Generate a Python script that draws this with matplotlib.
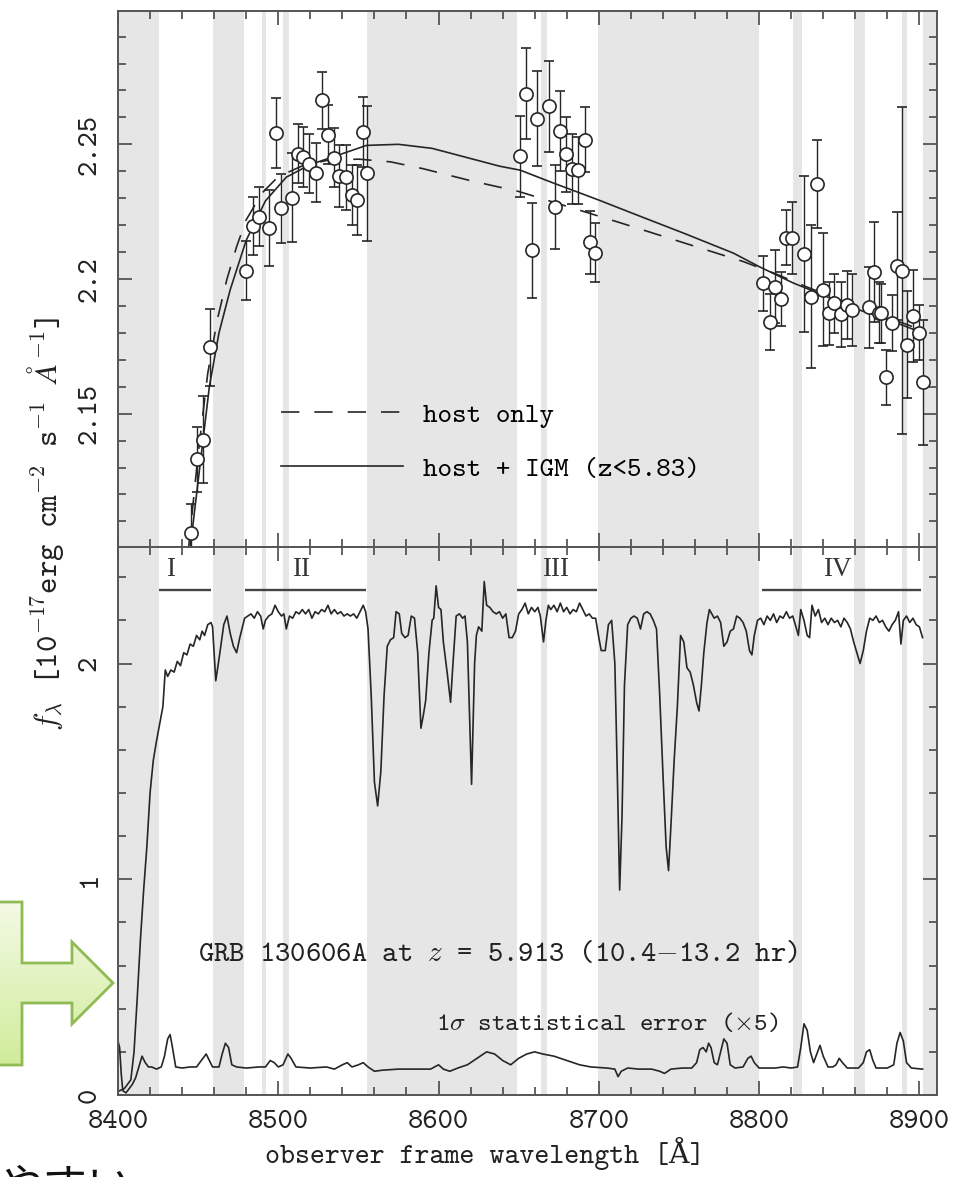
import numpy as np
import matplotlib
matplotlib.use("Agg")
import matplotlib.pyplot as plt
from matplotlib.ticker import MultipleLocator, FixedLocator, FixedFormatter
from matplotlib.patches import Polygon
from matplotlib.lines import Line2D
from matplotlib.colors import LinearSegmentedColormap

# ---------------- data ----------------
# binned flux points (upper panel)
pt_lam = [8445.8, 8449.6, 8453.3, 8457.3, 8479.8, 8484.0, 8488.0, 8494.4, 8498.5, 8501.7,
          8508.3, 8512.0, 8515.6, 8519.4, 8523.5, 8527.3, 8530.8, 8534.6, 8538.0, 8542.3,
          8545.8, 8549.2, 8553.0, 8555.4,
          8650.6, 8654.8, 8658.3, 8661.6, 8668.8, 8672.5, 8675.6, 8679.8, 8683.3, 8687.0,
          8691.3, 8694.4, 8697.9,
          8802.7, 8806.5, 8810.0, 8813.8, 8817.0, 8820.8, 8828.0, 8832.3, 8836.0, 8839.8,
          8843.4, 8847.0, 8851.0, 8854.8, 8857.9, 8868.3, 8871.5, 8874.6, 8876.3, 8879.2,
          8882.9, 8886.0, 8889.0, 8892.3, 8896.0, 8899.6, 8902.0]
pt_flux = [2.1058, 2.1330, 2.1404, 2.1746, 2.2031, 2.2196, 2.2231, 2.2190, 2.2543, 2.2262,
           2.2301, 2.2465, 2.2453, 2.2428, 2.2395, 2.2663, 2.2536, 2.2451, 2.2383, 2.2377,
           2.2311, 2.2295, 2.2546, 2.2392,
           2.2456, 2.2688, 2.2107, 2.2595, 2.2641, 2.2268, 2.2549, 2.2463, 2.2410, 2.2404,
           2.2517, 2.2136, 2.2098,
           2.1984, 2.1842, 2.1972, 2.1925, 2.2153, 2.2153, 2.2093, 2.1935, 2.2352, 2.1960,
           2.1873, 2.1910, 2.1869, 2.1904, 2.1885, 2.1895, 2.2027, 2.1875, 2.1873, 2.1635,
           2.1838, 2.2048, 2.2031, 2.1756, 2.1863, 2.1801, 2.1616]
pt_err = [0.0108, 0.0120, 0.0160, 0.0143, 0.0110, 0.0108, 0.0110, 0.0140, 0.0130, 0.0128,
          0.0165, 0.0110, 0.0110, 0.0110, 0.0110, 0.0106, 0.0110, 0.0110, 0.0115, 0.0120,
          0.0112, 0.0130, 0.0130, 0.0250,
          0.0150, 0.0170, 0.0176, 0.0176, 0.0170, 0.0157, 0.0148, 0.0140, 0.0130, 0.0125,
          0.0120, 0.0117, 0.0110,
          0.0102, 0.0104, 0.0136, 0.0100, 0.0102, 0.0134, 0.0290, 0.0265, 0.0163, 0.0210,
          0.0117, 0.0110, 0.0120, 0.0125, 0.0135, 0.0150, 0.0186, 0.0114, 0.0110, 0.0102,
          0.0104, 0.0200, 0.0607, 0.0199, 0.0170, 0.0102, 0.0233]

# model curves (upper panel)
host_lam = [8444, 8450, 8456, 8462, 8468, 8474, 8480, 8490, 8500, 8515, 8530, 8550, 8570,
            8590, 8620, 8650, 8680, 8710, 8750, 8790, 8810, 8830, 8860, 8902]
host_flux = [2.100, 2.135, 2.165, 2.185, 2.200, 2.212, 2.222, 2.232, 2.238, 2.242, 2.244,
             2.2445, 2.2435, 2.241, 2.2365, 2.2325, 2.227, 2.2215, 2.2140, 2.2065, 2.2020,
             2.1970, 2.1900, 2.1810]
igm_lam = [8445, 8450, 8457, 8463, 8470, 8480, 8492, 8505, 8520, 8535, 8555, 8575, 8596,
           8617, 8638, 8651, 8670, 8700, 8721, 8753, 8784, 8800, 8821, 8840, 8860, 8880, 8902]
igm_flux = [2.100, 2.125, 2.160, 2.180, 2.196, 2.2144, 2.229, 2.2378, 2.2425, 2.2455,
            2.2496, 2.2500, 2.2485, 2.2452, 2.2419, 2.2404, 2.2360, 2.2293, 2.2244, 2.2170,
            2.2096, 2.2046, 2.1986, 2.1940, 2.1890, 2.1850, 2.1800]

# spectrum (lower panel)
spec_lam = [8401, 8404, 8406, 8408, 8410, 8412, 8414, 8416, 8418, 8420, 8422, 8424, 8426, 8428,
            8429.5, 8431, 8433, 8435, 8437, 8439, 8441, 8443, 8445, 8447, 8449, 8451, 8452.5,
            8454, 8456, 8458, 8459, 8461, 8463, 8466, 8468, 8470, 8472, 8474, 8476, 8479,
            8481, 8483, 8485, 8487, 8489, 8490.6, 8492, 8494, 8496, 8498, 8500, 8502, 8503.5,
            8505, 8507, 8509, 8511, 8513, 8515, 8517, 8519, 8521, 8523, 8525, 8527, 8529,
            8531, 8533, 8535, 8537, 8539, 8541, 8543, 8545, 8547, 8549, 8551, 8553, 8554.5,
            8556, 8558, 8560, 8562, 8564, 8566, 8568, 8570, 8572, 8573.5, 8575.5, 8577, 8579,
            8581, 8583, 8585, 8587, 8589, 8590.5, 8592, 8594, 8596, 8597, 8598.5, 8600,
            8601.5, 8603, 8605.5, 8607.5, 8609, 8611, 8613, 8615, 8616.5, 8618, 8620.6,
            8622.5, 8623.6, 8625, 8627, 8628.5, 8630, 8632, 8634, 8636, 8638, 8640, 8642,
            8644, 8646, 8648, 8650, 8652, 8654, 8656, 8658, 8660, 8662, 8663.5, 8665.5, 8667,
            8668.5, 8670, 8672, 8674, 8676, 8678, 8680, 8682, 8684, 8686, 8688, 8690, 8692,
            8694, 8696, 8698, 8700, 8701.5, 8704, 8706, 8708, 8710, 8711.5, 8713, 8714.5,
            8716, 8718, 8720, 8722, 8724, 8726, 8728, 8730, 8732, 8734, 8736, 8738, 8740,
            8742, 8743.5, 8745, 8747, 8749, 8751, 8753, 8755, 8757, 8759, 8761, 8762.5, 8764,
            8765.5, 8767.5, 8769, 8770.5, 8772, 8774, 8776, 8778, 8780, 8782, 8784, 8786,
            8788, 8790, 8792, 8794, 8795.5, 8797, 8799, 8801, 8803, 8805, 8807, 8809, 8811,
            8813, 8815, 8817, 8819, 8821, 8823, 8824.5, 8826, 8828, 8830, 8831.5, 8833, 8835,
            8837, 8839, 8841, 8843, 8845, 8847, 8849, 8851, 8853, 8855, 8857, 8859, 8861,
            8863, 8865, 8867, 8869, 8871, 8873, 8875, 8877, 8879, 8881, 8883, 8885, 8887,
            8888.5, 8890, 8892, 8894, 8896, 8898, 8900, 8902]
spec_flux = [0.02, 0.03, 0.05, 0.07, 0.20, 0.45, 0.72, 0.95, 1.15, 1.40, 1.55, 1.64, 1.72, 1.80,
             1.97, 1.94, 1.97, 1.96, 2.01, 1.99, 2.05, 2.04, 2.09, 2.08, 2.13, 2.11, 2.15,
             2.13, 2.18, 2.19, 2.17, 1.92, 2.02, 2.18, 2.22, 2.14, 2.08, 2.05, 2.12, 2.21,
             2.22, 2.23, 2.21, 2.24, 2.22, 2.16, 2.20, 2.22, 2.23, 2.27, 2.24, 2.22, 2.23,
             2.16, 2.22, 2.21, 2.24, 2.23, 2.25, 2.23, 2.25, 2.21, 2.24, 2.23, 2.25, 2.24,
             2.27, 2.23, 2.25, 2.23, 2.24, 2.22, 2.23, 2.22, 2.23, 2.21, 2.24, 2.27, 2.24,
             2.16, 1.85, 1.45, 1.34, 1.50, 1.85, 2.08, 2.11, 2.12, 2.24, 2.23, 2.14, 2.12,
             2.13, 2.22, 2.21, 2.05, 1.70, 1.76, 1.83, 2.05, 2.20, 2.21, 2.36, 2.26,
             2.25, 2.10, 1.95, 1.82, 2.00, 2.22, 2.23, 2.21, 2.22, 2.10, 1.44,
             2.00, 2.13, 2.17, 2.15, 2.38, 2.27, 2.26, 2.24, 2.23, 2.24, 2.21, 2.23,
             2.12, 2.12, 2.15, 2.23, 2.25, 2.28, 2.23, 2.26, 2.24, 2.26, 2.22, 2.10, 2.20,
             2.27, 2.25, 2.27, 2.24, 2.28, 2.24, 2.26, 2.23, 2.25, 2.24, 2.28, 2.25, 2.22,
             2.23, 2.21, 2.21, 2.12, 2.06, 2.06, 2.18, 2.20, 2.00, 1.50, 0.95, 1.30,
             1.90, 2.18, 2.21, 2.22, 2.21, 2.16, 2.23, 2.24, 2.23, 2.20, 2.16, 1.85, 1.49,
             1.15, 1.04, 1.25, 1.55, 1.80, 2.13, 2.10, 1.98, 1.96, 1.90, 1.82, 1.78, 1.90,
             2.05, 2.19, 2.25, 2.23, 2.21, 2.22, 2.19, 2.08, 2.10, 2.15, 2.16, 2.22,
             2.21, 2.19, 2.15, 2.06, 2.04, 2.13, 2.20, 2.21, 2.18, 2.22, 2.20, 2.23, 2.19,
             2.22, 2.21, 2.24, 2.21, 2.22, 2.17, 2.13, 2.25, 2.20, 2.13, 2.12, 2.27, 2.22,
             2.25, 2.19, 2.21, 2.18, 2.21, 2.19, 2.20, 2.17, 2.21, 2.19, 2.16, 2.10, 2.05,
             2.00, 2.06, 2.15, 2.21, 2.20, 2.22, 2.19, 2.20, 2.17, 2.15, 2.18, 2.20, 2.24,
             2.09, 2.20, 2.22, 2.19, 2.21, 2.18, 2.17, 2.12]

# 1-sigma error spectrum (x5)
err_lam = [8400, 8401, 8402, 8403, 8405, 8407, 8409, 8411, 8413, 8415, 8417, 8419, 8421, 8424,
           8427, 8429, 8431, 8432.5, 8434, 8436, 8440, 8445, 8449, 8452, 8455, 8457, 8459,
           8463, 8465, 8467, 8469, 8471, 8474, 8480, 8488, 8492, 8495, 8497.5, 8500, 8503,
           8506, 8508, 8511, 8520, 8530, 8535, 8540, 8543, 8546, 8550, 8553, 8556, 8560,
           8565, 8575, 8585, 8595, 8600, 8603, 8607, 8612, 8618, 8624, 8630, 8635, 8640,
           8645, 8650, 8655, 8660, 8665, 8672, 8680, 8688, 8695, 8705, 8710, 8712, 8714,
           8718, 8725, 8733, 8738, 8741, 8745, 8752, 8758, 8761, 8763, 8765, 8767, 8768.5,
           8770, 8772, 8774, 8776, 8778, 8780, 8782, 8785, 8790, 8793, 8795, 8797, 8800,
           8810, 8815, 8820, 8824, 8826, 8828, 8830, 8832, 8834, 8836, 8838, 8840, 8843,
           8846, 8848, 8850, 8852, 8855, 8862, 8865, 8867, 8869, 8871, 8873, 8880, 8884,
           8886, 8888, 8890, 8892, 8895, 8902]
err_vals = [0.25, 0.22, 0.10, 0.02, 0.01, 0.03, 0.05, 0.08, 0.13, 0.18, 0.15, 0.13, 0.13, 0.12,
            0.13, 0.18, 0.26, 0.28, 0.22, 0.13, 0.125, 0.13, 0.13, 0.16, 0.19, 0.16, 0.13,
            0.13, 0.19, 0.24, 0.22, 0.14, 0.13, 0.125, 0.13, 0.13, 0.16, 0.15, 0.13, 0.14,
            0.19, 0.17, 0.13, 0.125, 0.13, 0.12, 0.14, 0.15, 0.13, 0.14, 0.15, 0.13, 0.11,
            0.115, 0.12, 0.12, 0.12, 0.14, 0.12, 0.11, 0.125, 0.14, 0.17, 0.20, 0.19, 0.16,
            0.14, 0.17, 0.19, 0.20, 0.19, 0.18, 0.16, 0.14, 0.13, 0.125, 0.12, 0.085, 0.11,
            0.125, 0.12, 0.12, 0.11, 0.10, 0.12, 0.125, 0.125, 0.15, 0.21, 0.22, 0.20, 0.24,
            0.22, 0.15, 0.14, 0.20, 0.26, 0.24, 0.14, 0.125, 0.13, 0.17, 0.18, 0.15, 0.125,
            0.125, 0.13, 0.125, 0.13, 0.22, 0.33, 0.30, 0.20, 0.15, 0.19, 0.23, 0.18, 0.13,
            0.13, 0.14, 0.17, 0.15, 0.125, 0.125, 0.15, 0.20, 0.21, 0.16, 0.125, 0.125, 0.14,
            0.24, 0.29, 0.25, 0.15, 0.125, 0.12]

# masked (shaded) wavelength ranges
band_start = [8400.0, 8459.4, 8490.0, 8503.0, 8555.6, 8664.0, 8699.4, 8821.0, 8859.0, 8889.0, 8902.5]
band_end = [8425.6, 8478.8, 8492.5, 8507.0, 8648.8, 8667.5, 8800.0, 8827.0, 8866.0, 8892.0, 8911.0]

# fitting regions
region_names = ["I", "II", "III", "IV"]
region_start = [8425.6, 8479.0, 8649.0, 8802.0]
region_end = [8458.0, 8555.0, 8699.0, 8901.0]

x_ticks = [8400, 8500, 8600, 8700, 8800, 8900]
x_ticklabels = ["8400", "8500", "8600", "8700", "8800", "8900"]
top_yticks = [2.15, 2.2, 2.25]
top_yticklabels = ["2.15", "2.2", "2.25"]
bot_yticks = [0, 1, 2]
bot_yticklabels = ["0", "1", "2"]

# ---------------- figure ----------------
TT = ['cmtt10', 'DejaVu Serif']
plt.rcParams['font.family'] = TT
plt.rcParams['mathtext.fontset'] = 'cm'
plt.rcParams['axes.unicode_minus'] = False

W, H = 969, 1177
fig = plt.figure(figsize=(W / 100, H / 100), dpi=100)

L = 118 / W
R = 937 / W
T = 1 - 11 / H
M = 1 - 547 / H
B = 1 - 1095 / H

ax1 = fig.add_axes([L, M, R - L, T - M])
ax2 = fig.add_axes([L, B, R - L, M - B], sharex=ax1)

band_color = '#e6e6e6'
line_color = '#262626'
dash_style = (0, (11, 9))
for ax in (ax1, ax2):
    for s, e in zip(band_start, band_end):
        ax.axvspan(s, e, color=band_color, lw=0, zorder=0)
    ax.set_xlim(8400, 8911)
    ax.xaxis.set_major_locator(FixedLocator(x_ticks))
    ax.xaxis.set_minor_locator(MultipleLocator(20))
    ax.tick_params(which='both', direction='in', top=True, right=True,
                   color='#3a3a3a', width=1.1, labelsize=21, labelfontfamily='cmtt10',
                   labelcolor='#222222')
    ax.tick_params(which='major', length=10)
    ax.tick_params(which='minor', length=5.5)
    for sp in ax.spines.values():
        sp.set_color('#555555')
        sp.set_linewidth(1.4)

# ---- upper panel
ax1.set_ylim(2.1005, 2.2995)
ax1.errorbar(pt_lam, pt_flux, yerr=pt_err, fmt='o', ms=9.5, mfc='white', mec=line_color,
             mew=1.2, ecolor=line_color, elinewidth=1.0, capsize=3.5, capthick=1.0, zorder=3)
ax1.plot(host_lam, host_flux, color=line_color, lw=1.2, ls=dash_style, zorder=2)
ax1.plot(igm_lam, igm_flux, color=line_color, lw=1.2, zorder=2)
ax1.yaxis.set_major_locator(FixedLocator(top_yticks))
ax1.yaxis.set_major_formatter(FixedFormatter(top_yticklabels))
ax1.yaxis.set_minor_locator(MultipleLocator(0.01))
ax1.tick_params(axis='x', labelbottom=False)
ax1.tick_params(axis='y', pad=11)
for lab in ax1.get_yticklabels():
    lab.set_rotation(90)
    lab.set_va('center')

handles = [Line2D([], [], color=line_color, lw=1.2, ls=dash_style),
           Line2D([], [], color=line_color, lw=1.2)]
ax1.legend(handles, ["host only", "host + IGM (z<5.83)"], loc='upper left',
           bbox_to_anchor=(0.199, 0.270), frameon=False, fontsize=20,
           handlelength=4.4, handletextpad=0.7, labelspacing=1.03,
           borderpad=0, borderaxespad=0)

# ---- lower panel
ax2.set_ylim(0, 2.54)
ax2.plot(spec_lam, spec_flux, color=line_color, lw=1.2, zorder=2)
ax2.plot(err_lam, err_vals, color=line_color, lw=1.2, zorder=2)
ax2.yaxis.set_major_locator(FixedLocator(bot_yticks))
ax2.yaxis.set_major_formatter(FixedFormatter(bot_yticklabels))
ax2.yaxis.set_minor_locator(MultipleLocator(0.2))
ax2.xaxis.set_major_formatter(FixedFormatter(x_ticklabels))
ax2.tick_params(axis='y', pad=11)
ax2.tick_params(axis='x', pad=10.5)
for lab in ax2.get_yticklabels():
    lab.set_rotation(90)
    lab.set_va('center')

ax2.hlines([2.34] * len(region_start), region_start, region_end, color='#444444', lw=1.7, zorder=2)
label_x = [8432.5, 8514, 8673, 8849]
for name, lx in zip(region_names, label_x):
    ax2.text(lx, 2.435, name, ha='center', va='center', fontsize=19.5,
             family=['Liberation Serif'], color='#333333')

ax2.text(8637, 0.65, r"GRB 130606A at $z$ = 5.913 (10.4$-$13.2 hr)", ha='center', va='center',
         fontsize=21, color='#222222')
ax2.text(8705, 0.33, r"1$\sigma$ statistical error ($\times$5)", ha='center', va='center',
         fontsize=18.5, color='#222222')

ax2.set_xlabel("observer frame wavelength [Å]", fontsize=20.5, color='#222222')
ax2.xaxis.set_label_coords(0.5, 1 - 1137 / H, transform=fig.transFigure)
fig.text(46 / W, 1 - 524 / H,
         r"$f_\lambda$ [10$^{-17}$erg cm$^{-2}$ s$^{-1}$ $\AA^{-1}$]",
         rotation=90, ha='center', va='center', fontsize=22.5, color='#222222')

# ---- slide decorations: arrow + partial Japanese text
ov = fig.add_axes([0, 0, 1, 1], zorder=-1)
ov.set_xlim(0, W)
ov.set_ylim(H, 0)
ov.axis('off')
verts = [(-5, 902), (22, 902), (22, 963), (72, 963), (72, 942), (113, 983),
         (72, 1024), (72, 1003), (22, 1003), (22, 1065), (-5, 1065)]
poly = Polygon(verts, closed=True, facecolor='none', edgecolor='#8fba55', lw=2.0)
ov.add_patch(poly)
cmap = LinearSegmentedColormap.from_list('g', ['#f3fae4', '#d0ec9a'])
im = ov.imshow(np.linspace(0, 1, 256).reshape(-1, 1), cmap=cmap, aspect='auto',
               extent=(-5, 115, 1065, 902), interpolation='bilinear')
im.set_clip_path(poly)
ov.set_xlim(0, W)
ov.set_ylim(H, 0)
ov.text(-2, 1200, "やすい", fontsize=32, family=['Noto Sans CJK JP'], va='baseline',
        ha='left', color='#111111', clip_on=False)

fig.savefig("out.png", dpi=100)
